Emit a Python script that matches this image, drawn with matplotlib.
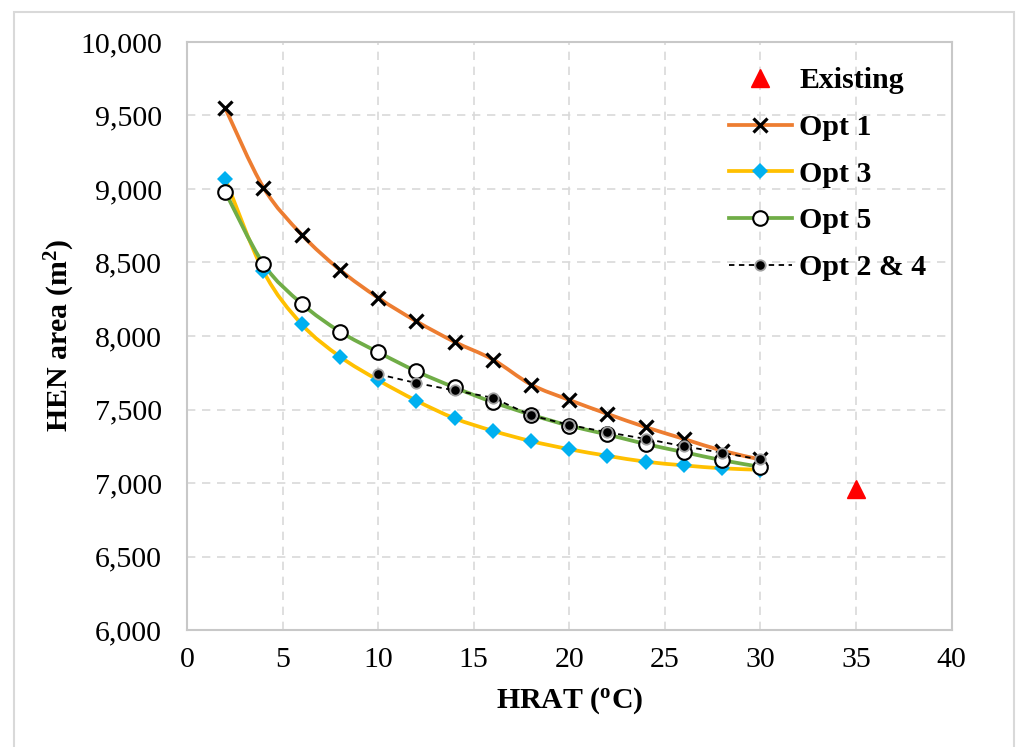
import numpy as np
import matplotlib
matplotlib.use("Agg")
import matplotlib.pyplot as plt
from matplotlib.path import Path
from matplotlib.patches import PathPatch, Rectangle
from matplotlib.lines import Line2D
from matplotlib.ticker import FuncFormatter

plt.rcParams['font.family'] = ['Liberation Serif', 'DejaVu Serif']
plt.rcParams['mathtext.fontset'] = 'custom'
plt.rcParams['mathtext.rm'] = 'Liberation Serif'
plt.rcParams['mathtext.bf'] = 'Liberation Serif:bold'

# data
hrat = [2, 4, 6, 8, 10, 12, 14, 16, 18, 20, 22, 24, 26, 28, 30]
opt1 = [9550, 9010, 8690, 8450, 8260, 8100, 7960, 7840, 7670, 7565, 7470, 7380, 7300, 7220, 7160]
opt3 = [9070, 8440, 8080, 7860, 7700, 7560, 7440, 7355, 7285, 7230, 7185, 7145, 7120, 7100, 7090]
opt5 = [8980, 8490, 8220, 8030, 7890, 7760, 7650, 7550, 7465, 7390, 7330, 7265, 7210, 7155, 7110]
hrat24 = [10, 12, 14, 16, 18, 20, 22, 24, 26, 28, 30]
opt24 = [7740, 7680, 7630, 7580, 7460, 7395, 7345, 7300, 7250, 7205, 7160]
exist_x = [35]
exist_y = [6960]

orange = '#ED7D31'
yellow = '#FFC000'
green = '#70AD47'
blue = '#00B0F0'


def smooth_path(x, y):
    # Excel-like smoothed line: cubic bezier through the points
    p = np.column_stack([x, y]).astype(float)
    n = len(p)
    verts = [p[0]]
    codes = [Path.MOVETO]
    for i in range(n - 1):
        p0 = p[i - 1] if i > 0 else p[i]
        p1 = p[i]
        p2 = p[i + 1]
        p3 = p[i + 2] if i + 2 < n else p[i + 1]
        c1 = p1 + (p2 - p0) / 6.0
        c2 = p2 - (p3 - p1) / 6.0
        verts += [c1, c2, p2]
        codes += [Path.CURVE4] * 3
    return Path(verts, codes)


fig = plt.figure(figsize=(10.18, 7.47), dpi=100)
ax = fig.add_axes([0.1837, 0.1566, 0.7510, 0.7872])

lw = 2.7
# smoothed lines
for xs, ys, c in [(hrat, opt1, orange), (hrat, opt3, yellow), (hrat, opt5, green)]:
    ax.add_patch(PathPatch(smooth_path(xs, ys), facecolor='none', edgecolor=c,
                           lw=lw, zorder=3, capstyle='round'))

ax.plot(hrat, opt1, ls='none', marker='x', ms=10.5, mew=2.3, color='black', zorder=4)
ax.plot(hrat, opt3, ls='none', marker='D', ms=8.5, mew=0, color=blue, zorder=4)
ax.plot(hrat, opt5, ls='none', marker='o', ms=10.5, mew=1.5, mfc='white', mec='black', zorder=5)
ax.plot(hrat24, opt24, ls='--', lw=1.3, color='black', dashes=(3, 2.5), zorder=6)
ax.plot(hrat24, opt24, ls='none', marker='o', ms=7.5, mew=1.3, mfc='black', mec='#a0a0a0', zorder=7)
ax.plot(exist_x, exist_y, ls='none', marker='^', ms=12.5, color='#FF0000', zorder=5)

ax.set_xlim(0, 40)
ax.set_ylim(6000, 10000)
ax.set_xticks(np.arange(0, 41, 5))
ax.set_yticks(np.arange(6000, 10001, 500))
ax.yaxis.set_major_formatter(FuncFormatter(lambda v, p: f'{int(v):,}'))
ax.tick_params(length=0, labelsize=21.5)
ax.tick_params(axis='y', pad=18)
ax.tick_params(axis='x', pad=12)

ax.grid(True, color='#d9d9d9', ls=(0, (5, 4)), lw=1.2)
ax.set_axisbelow(True)
for s in ax.spines.values():
    s.set_color('#c8c8c8')
    s.set_linewidth(1.5)

ax.set_xlabel(r'HRAT ($\mathbf{^o}$C)', fontsize=21.5, fontweight='bold')
ax.set_ylabel(r'HEN area (m$\mathbf{^2}$)', fontsize=21.5, fontweight='bold')
ax.xaxis.set_label_coords(0.5, -0.12)
ax.xaxis.label.set_va('center')
ax.yaxis.set_label_coords(-0.166, 0.5)
ax.yaxis.label.set_va('center')

handles = [
    Line2D([], [], ls='none', marker='^', ms=12.5, color='#FF0000'),
    Line2D([], [], color=orange, lw=lw, marker='x', ms=10.5, mew=2.3, mec='black'),
    Line2D([], [], color=yellow, lw=lw, marker='D', ms=8.5, mew=0, mfc=blue),
    Line2D([], [], color=green, lw=lw, marker='o', ms=10.5, mew=1.5, mfc='white', mec='black'),
    Line2D([], [], color='black', lw=1.3, ls='--', dashes=(3, 2.5), marker='o', ms=7.5,
           mew=1.3, mfc='black', mec='#a0a0a0'),
]
labels = ['Existing', 'Opt 1', 'Opt 3', 'Opt 5', 'Opt 2 & 4']
ax.legend(handles, labels, loc='upper right', bbox_to_anchor=(1.0, 1.0), frameon=False,
          prop={'size': 21.5, 'weight': 'bold'}, handlelength=2.1, handletextpad=0.25,
          labelspacing=0.66, borderaxespad=0.45)

fig.patches.append(Rectangle((14 / 1018, -0.05), 1000 / 1018, 1.05 - 12 / 747,
                             transform=fig.transFigure, fill=False,
                             edgecolor='#d9d9d9', lw=1.5))

fig.savefig('out.png', dpi=100)
